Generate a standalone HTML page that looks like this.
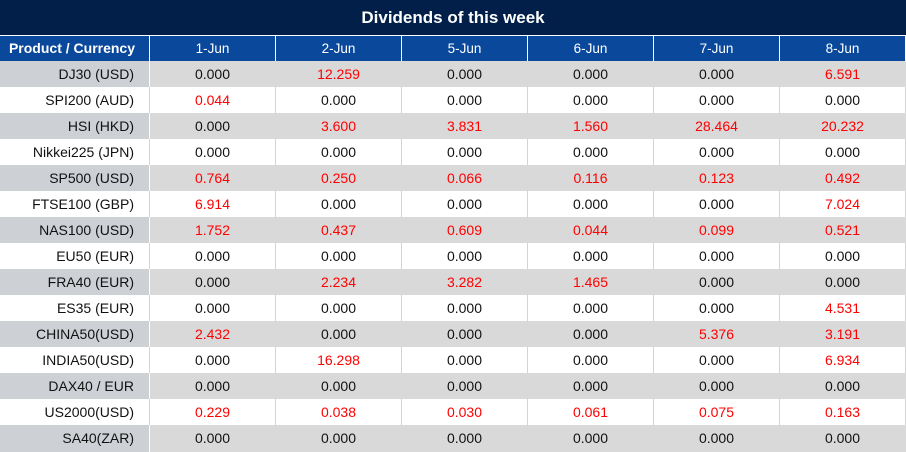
<!DOCTYPE html>
<html><head><meta charset="utf-8"><style>
*{margin:0;padding:0;box-sizing:border-box}
body{width:906px;height:452px;overflow:hidden;background:#fff;font-family:"Liberation Sans",Arial,sans-serif}
.title{height:35px;background:#021f4a;color:#fff;font-weight:bold;font-size:17px;text-align:center;line-height:35px}
.row{display:flex;height:26px;line-height:26px;font-size:14px}
.row>div{border-right:1px solid #d4d4d4;text-align:center;color:#111;white-space:nowrap}
.row>div:first-child{width:150px;text-align:right;padding-right:15px}
.row>div:not(:first-child){width:126px}
.hdr{height:26px;line-height:25px;border-top:1px solid #fff;background:#0a489c}
.hdr>div{color:#fff!important;border-right-color:#fff!important;font-size:13.5px}
.hdr>div:first-child{font-weight:bold;font-size:14px;padding-right:14px}
.g{background:#d9d9d9}
.g>div{border-right-color:#d9d9d9}
.g>div:first-child{background:#cdd1d6;border-right-color:#fff}
.r{color:#ff0000!important}
.last{height:27px}
</style></head><body>
<div class="title">Dividends of this week</div>
<div class="row hdr"><div>Product / Currency</div><div>1-Jun</div><div>2-Jun</div><div>5-Jun</div><div>6-Jun</div><div>7-Jun</div><div>8-Jun</div></div>
<div class="row g"><div>DJ30 (USD)</div><div>0.000</div><div class="r">12.259</div><div>0.000</div><div>0.000</div><div>0.000</div><div class="r">6.591</div></div>
<div class="row"><div>SPI200 (AUD)</div><div class="r">0.044</div><div>0.000</div><div>0.000</div><div>0.000</div><div>0.000</div><div>0.000</div></div>
<div class="row g"><div>HSI (HKD)</div><div>0.000</div><div class="r">3.600</div><div class="r">3.831</div><div class="r">1.560</div><div class="r">28.464</div><div class="r">20.232</div></div>
<div class="row"><div>Nikkei225 (JPN)</div><div>0.000</div><div>0.000</div><div>0.000</div><div>0.000</div><div>0.000</div><div>0.000</div></div>
<div class="row g"><div>SP500 (USD)</div><div class="r">0.764</div><div class="r">0.250</div><div class="r">0.066</div><div class="r">0.116</div><div class="r">0.123</div><div class="r">0.492</div></div>
<div class="row"><div>FTSE100 (GBP)</div><div class="r">6.914</div><div>0.000</div><div>0.000</div><div>0.000</div><div>0.000</div><div class="r">7.024</div></div>
<div class="row g"><div>NAS100 (USD)</div><div class="r">1.752</div><div class="r">0.437</div><div class="r">0.609</div><div class="r">0.044</div><div class="r">0.099</div><div class="r">0.521</div></div>
<div class="row"><div>EU50 (EUR)</div><div>0.000</div><div>0.000</div><div>0.000</div><div>0.000</div><div>0.000</div><div>0.000</div></div>
<div class="row g"><div>FRA40 (EUR)</div><div>0.000</div><div class="r">2.234</div><div class="r">3.282</div><div class="r">1.465</div><div>0.000</div><div>0.000</div></div>
<div class="row"><div>ES35 (EUR)</div><div>0.000</div><div>0.000</div><div>0.000</div><div>0.000</div><div>0.000</div><div class="r">4.531</div></div>
<div class="row g"><div>CHINA50(USD)</div><div class="r">2.432</div><div>0.000</div><div>0.000</div><div>0.000</div><div class="r">5.376</div><div class="r">3.191</div></div>
<div class="row"><div>INDIA50(USD)</div><div>0.000</div><div class="r">16.298</div><div>0.000</div><div>0.000</div><div>0.000</div><div class="r">6.934</div></div>
<div class="row g"><div>DAX40 / EUR</div><div>0.000</div><div>0.000</div><div>0.000</div><div>0.000</div><div>0.000</div><div>0.000</div></div>
<div class="row"><div>US2000(USD)</div><div class="r">0.229</div><div class="r">0.038</div><div class="r">0.030</div><div class="r">0.061</div><div class="r">0.075</div><div class="r">0.163</div></div>
<div class="row g last"><div>SA40(ZAR)</div><div>0.000</div><div>0.000</div><div>0.000</div><div>0.000</div><div>0.000</div><div>0.000</div></div>
</body></html>
